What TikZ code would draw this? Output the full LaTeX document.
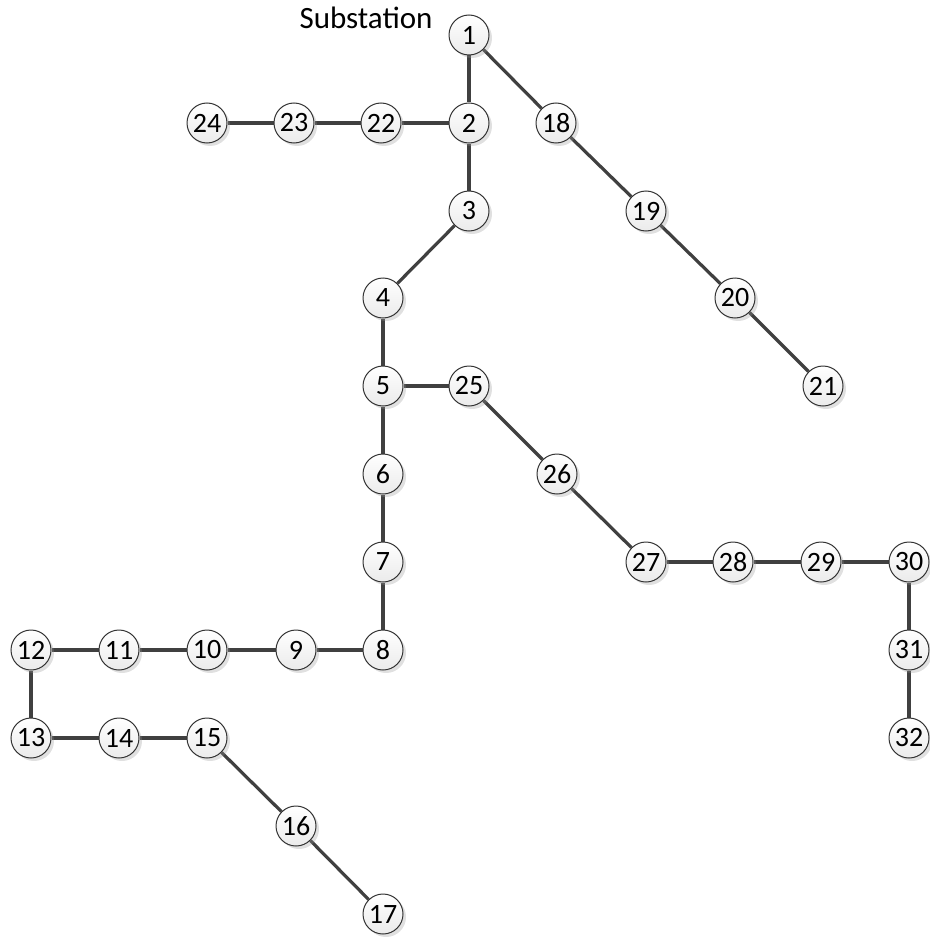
\documentclass[tikz,border=0pt]{standalone}
\usepackage{fontspec}
\setmainfont{Carlito}
\usetikzlibrary{shadows,backgrounds}
\begin{document}
\begin{tikzpicture}[x=1pt,y=-1pt,
  bus/.style={circle,draw=black!80,line width=1pt,minimum size=40pt,inner sep=0pt,
    top color=white,bottom color=black!8,
    drop shadow={shadow xshift=3pt,shadow yshift=-3pt,opacity=0.3,fill=black!40},
    font=\fontsize{28}{30}\selectfont},
  line/.style={draw=black!75,line width=3.2pt}]
\useasboundingbox (0,0) rectangle (929,939);
\node[font=\fontsize{31}{34}\selectfont] (sub) at (366,18) {Substation};
\foreach \n/\x/\y in {1/469/35,2/469/123,22/381/123,23/294/123,24/207/123,18/556/123,
  3/469/211,19/646/211,4/383/298,20/735/298,5/383/386,25/469/386,21/823/386,
  6/383/474,26/557/474,7/383/562,27/646/562,28/733/562,29/821/562,30/909/562,
  8/383/650,9/296/650,10/207/650,11/119/650,12/31/650,31/909/650,
  13/31/738,14/119/738,15/207/738,32/909/738,16/296/826,17/383/914}
  \node[bus] (n\n) at (\x,\y) {\n};
\begin{pgfonlayer}{background}
\foreach \a/\b in {1/2,2/22,22/23,23/24,1/18,18/19,19/20,20/21,2/3,3/4,4/5,5/25,25/26,26/27,
  27/28,28/29,29/30,30/31,31/32,5/6,6/7,7/8,8/9,9/10,10/11,11/12,12/13,13/14,14/15,15/16,16/17}
  \draw[line] (n\a) -- (n\b);
\end{pgfonlayer}
\end{tikzpicture}
\end{document}
